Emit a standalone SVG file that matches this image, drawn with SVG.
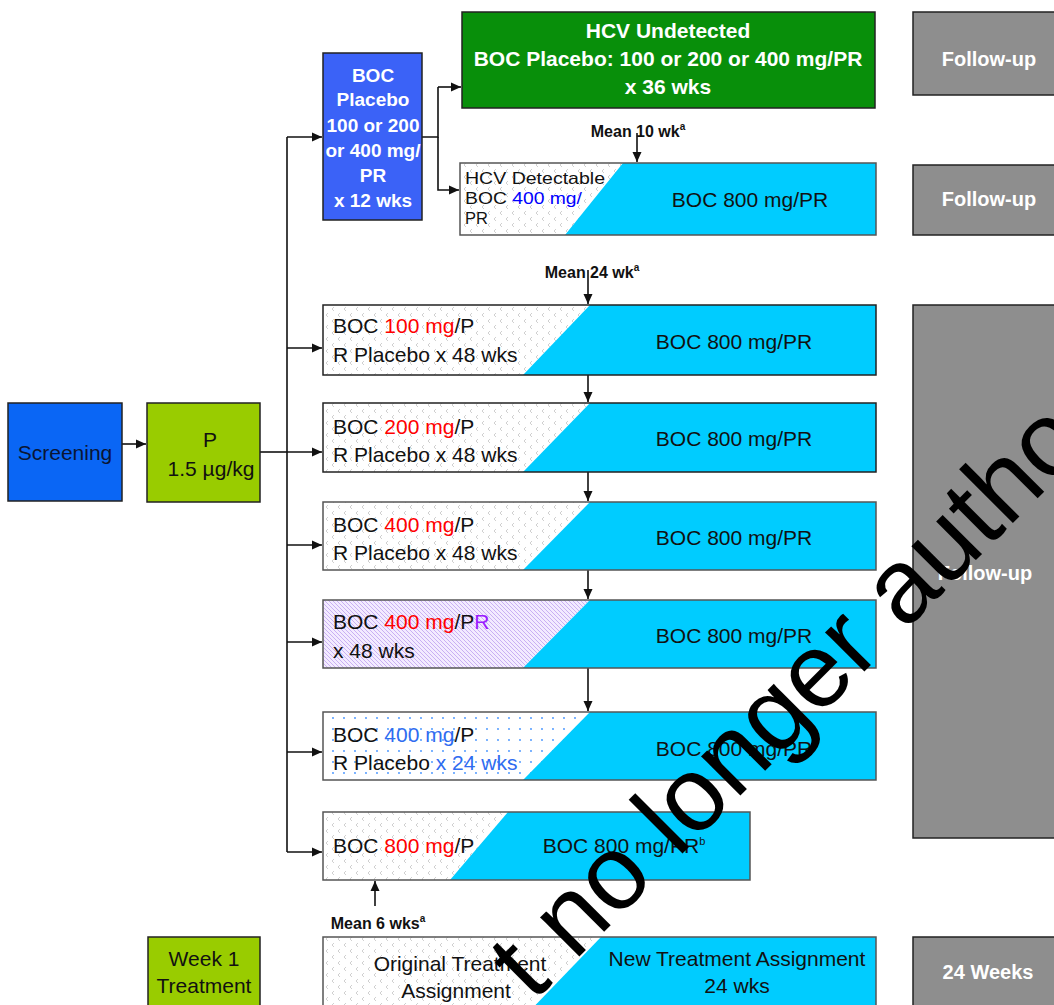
<svg xmlns="http://www.w3.org/2000/svg" width="1054" height="1005" viewBox="0 0 1054 1005">
<defs>
<style>
text{font-family:"Liberation Sans",Arial,sans-serif;font-size:21px;fill:#111}
.c{text-anchor:middle}
.w{fill:#fff;font-weight:bold}
.b{font-weight:bold}
.m{font-weight:bold;font-size:16px;text-anchor:middle}
.red{fill:#ff0000}
.box{stroke:#222;stroke-width:1.5}
.wb{stroke:#555;stroke-width:1.5}
.cy{fill:#00ccff;stroke:none}
.gray{fill:#8e8e8e;stroke:#222;stroke-width:1.5}
.ln{fill:none;stroke:#111;stroke-width:1.6}
.hd{font-size:16.5px}
</style>
<pattern id="dots" width="12" height="12" patternUnits="userSpaceOnUse">
<rect width="12" height="12" fill="#fff"/>
<path d="M4,1 L2,3 L4,5 M10,7 L8,9 L10,11" fill="none" stroke="#c4c4c4" stroke-width="0.8"/>
</pattern>
<pattern id="hatch" width="4" height="4" patternUnits="userSpaceOnUse">
<rect width="4" height="4" fill="#f3ebff"/>
<path d="M-1,-1 L5,5 M-1,3 L1,5 M3,-1 L5,1" stroke="#b896ee" stroke-width="0.7"/>
</pattern>
<pattern id="bdots" width="11" height="11" patternUnits="userSpaceOnUse">
<rect width="11" height="11" fill="#fff"/>
<circle cx="3" cy="3" r="0.9" fill="#3d8fff"/>
</pattern>
<marker id="ah" viewBox="0 0 10 10" refX="10" refY="5" markerWidth="10" markerHeight="10" markerUnits="userSpaceOnUse" orient="auto">
<path d="M0,0.5 L10,5 L0,9.5 Z" fill="#111"/>
</marker>
</defs>
<rect width="1054" height="1005" fill="#fff"/>

<g id="connectors">
<path class="ln" d="M122,444 H146" marker-end="url(#ah)"/>
<path class="ln" d="M260,452 H287"/>
<path class="ln" d="M287,137 V852"/>
<path class="ln" d="M287,137 H322" marker-end="url(#ah)"/>
<path class="ln" d="M287,348 H322" marker-end="url(#ah)"/>
<path class="ln" d="M287,452 H322" marker-end="url(#ah)"/>
<path class="ln" d="M287,545 H322" marker-end="url(#ah)"/>
<path class="ln" d="M287,642 H322" marker-end="url(#ah)"/>
<path class="ln" d="M287,752 H322" marker-end="url(#ah)"/>
<path class="ln" d="M287,852 H322" marker-end="url(#ah)"/>
<path class="ln" d="M422,137 H438 V87"/>
<path class="ln" d="M438,87 H461" marker-end="url(#ah)"/>
<path class="ln" d="M438,137 V190 H459" marker-end="url(#ah)"/>
<path class="ln" d="M637,133 V162" marker-end="url(#ah)"/>
<path class="ln" d="M588,270 V304" marker-end="url(#ah)"/>
<path class="ln" d="M588,375 V402" marker-end="url(#ah)"/>
<path class="ln" d="M588,472 V501" marker-end="url(#ah)"/>
<path class="ln" d="M588,570 V599" marker-end="url(#ah)"/>
<path class="ln" d="M588,668 V711" marker-end="url(#ah)"/>
<path class="ln" d="M375,906 V881" marker-end="url(#ah)"/>
</g>

<g id="screening">
<rect class="box" x="8" y="403" width="114" height="98" fill="#0a66f5"/>
<text class="c" x="65" y="460" style="fill:#0b1533">Screening</text>
</g>

<g id="p-box">
<rect class="box" x="147" y="403" width="113" height="99" fill="#99cc00"/>
<text class="c" x="210" y="447">P</text>
<text class="c" x="211" y="476">1.5 µg/kg</text>
</g>

<g id="boc-placebo">
<rect class="box" x="323" y="53" width="99" height="167" fill="#3b62f7"/>
<text class="c w" x="373" y="82" style="font-size:19px">BOC</text>
<text class="c w" x="373" y="106" style="font-size:19px">Placebo</text>
<text class="c w" x="373" y="132" style="font-size:19px">100 or 200</text>
<text class="c w" x="373" y="157" style="font-size:19px">or 400 mg/</text>
<text class="c w" x="373" y="182" style="font-size:19px">PR</text>
<text class="c w" x="373" y="207" style="font-size:19px">x 12 wks</text>
</g>

<g id="hcv-undetected">
<rect class="box" x="462" y="12" width="413" height="96" fill="#088f0a"/>
<text class="c w" x="668" y="38">HCV Undetected</text>
<text class="c w" x="668" y="66">BOC Placebo: 100 or 200 or 400 mg/PR</text>
<text class="c w" x="668" y="94">x 36 wks</text>
</g>

<g id="mean10">
<text class="m" x="638" y="137">Mean 10 wk<tspan font-size="10" dy="-7">a</tspan></text>
</g>

<g id="hcv-detectable">
<rect x="460" y="163" width="416" height="72" fill="url(#dots)"/>
<text class="hd" x="465" y="184" textLength="140" lengthAdjust="spacingAndGlyphs">HCV Detectable</text>
<text class="hd" x="465" y="204" textLength="117" lengthAdjust="spacingAndGlyphs">BOC <tspan style="fill:#0000ff">400 mg/</tspan></text>
<text class="hd" x="465" y="224">PR</text>
<polygon class="cy" points="623,163 876,163 876,235 565,235"/>
<rect class="wb" x="460" y="163" width="416" height="72" fill="none"/>
<text class="c" x="750" y="207">BOC 800 mg/PR</text>
</g>

<g id="followup-1">
<rect class="gray" x="913" y="12" width="150" height="83"/>
<text class="c w" x="989" y="66" style="font-size:20px">Follow-up</text>
</g>
<g id="followup-2">
<rect class="gray" x="913" y="165" width="150" height="70"/>
<text class="c w" x="989" y="206" style="font-size:20px">Follow-up</text>
</g>
<g id="followup-3">
<rect class="gray" x="913" y="305" width="150" height="533"/>
<text class="c w" x="985" y="580" style="font-size:20px">Follow-up</text>
</g>

<g id="mean24">
<text class="m" x="592" y="278">Mean 24 wk<tspan font-size="10" dy="-7">a</tspan></text>
</g>

<g id="row-100">
<rect x="323" y="305" width="553" height="70" fill="url(#dots)"/>
<polygon class="cy" points="590,305 876,305 876,375 523,375"/>
<rect class="box" x="323" y="305" width="553" height="70" fill="none"/>
<text x="333" y="333">BOC <tspan class="red">100 mg</tspan>/P</text>
<text x="333" y="362">R Placebo x 48 wks</text>
<text class="c" x="734" y="349">BOC 800 mg/PR</text>
</g>

<g id="row-200">
<rect x="323" y="403" width="553" height="69" fill="url(#dots)"/>
<polygon class="cy" points="590,403 876,403 876,472 523,472"/>
<rect class="box" x="323" y="403" width="553" height="69" fill="none"/>
<text x="333" y="434">BOC <tspan class="red">200 mg</tspan>/P</text>
<text x="333" y="462">R Placebo x 48 wks</text>
<text class="c" x="734" y="446">BOC 800 mg/PR</text>
</g>

<g id="row-400">
<rect x="323" y="502" width="553" height="68" fill="url(#dots)"/>
<polygon class="cy" points="590,502 876,502 876,570 523,570"/>
<rect class="wb" x="323" y="502" width="553" height="68" fill="none"/>
<text x="333" y="532">BOC <tspan class="red">400 mg</tspan>/P</text>
<text x="333" y="560">R Placebo x 48 wks</text>
<text class="c" x="734" y="545">BOC 800 mg/PR</text>
</g>

<g id="row-400-pr">
<rect x="323" y="600" width="553" height="68" fill="url(#hatch)"/>
<polygon class="cy" points="590,600 876,600 876,668 523,668"/>
<rect class="wb" x="323" y="600" width="553" height="68" fill="none"/>
<text x="333" y="629">BOC <tspan class="red">400 mg</tspan>/P<tspan style="fill:#9a1cff">R</tspan></text>
<text x="333" y="658">x 48 wks</text>
<text class="c" x="734" y="643">BOC 800 mg/PR</text>
</g>

<g id="row-400-24">
<rect x="323" y="712" width="553" height="68" fill="url(#bdots)"/>
<polygon class="cy" points="590,712 876,712 876,780 523,780"/>
<rect class="wb" x="323" y="712" width="553" height="68" fill="none"/>
<text x="333" y="742">BOC <tspan style="fill:#2f6cf0">400 mg</tspan>/P</text>
<text x="333" y="770">R Placebo <tspan style="fill:#2f6cf0">x 24 wks</tspan></text>
<text class="c" x="734" y="756">BOC 800 mg/PR</text>
</g>

<g id="row-800">
<rect x="323" y="812" width="427" height="68" fill="url(#dots)"/>
<polygon class="cy" points="508,812 750,812 750,880 450,880"/>
<rect class="wb" x="323" y="812" width="427" height="68" fill="none"/>
<text x="333" y="853">BOC <tspan class="red">800 mg</tspan>/P</text>
<text class="c" x="624" y="853">BOC 800 mg/PR<tspan font-size="11" dy="-8">b</tspan></text>
</g>

<g id="mean6">
<text class="m" x="378" y="929">Mean 6 wks<tspan font-size="10" dy="-7">a</tspan></text>
</g>

<g id="week1">
<rect class="box" x="148" y="937" width="112" height="80" fill="#99cc00"/>
<text class="c" x="204" y="966">Week 1</text>
<text class="c" x="204" y="993">Treatment</text>
</g>

<g id="legend-assignment">
<rect x="323" y="937" width="553" height="80" fill="url(#dots)"/>
<polygon class="cy" points="601,937 876,937 876,1017 524,1017"/>
<rect class="wb" x="323" y="937" width="553" height="80" fill="none"/>
<text class="c" x="460" y="971">Original Treatment</text>
<text class="c" x="456" y="998">Assignment</text>
<text class="c" x="737" y="966">New Treatment Assignment</text>
<text class="c" x="737" y="993">24 wks</text>
</g>

<g id="legend-24weeks">
<rect class="gray" x="913" y="937" width="150" height="80"/>
<text class="c w" x="988" y="979" style="font-size:20px">24 Weeks</text>
</g>

<text transform="translate(533,1003) rotate(-45)" style="font-size:105px;fill:#000">t no longer autho</text>
</svg>
